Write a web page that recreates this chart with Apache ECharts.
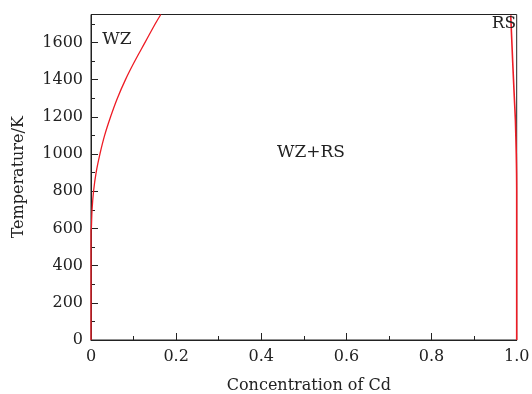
<!DOCTYPE html>
<html>
<head>
<meta charset="utf-8">
<script src="https://cdn.jsdelivr.net/npm/echarts@6/dist/echarts.min.js"></script>
<style>html,body{margin:0;padding:0;background:#fff}#c{width:532px;height:394px}</style>
</head>
<body>
<div id="c"></div>
<script>
// WZ solubility boundary (Cd fraction, temperature K)
const wzX = [0, 0, 0.0008, 0.0025, 0.006, 0.012, 0.021, 0.032, 0.046, 0.062, 0.081, 0.103, 0.127, 0.151, 0.164];
const wzT = [0, 590, 600, 700, 800, 900, 1000, 1100, 1200, 1300, 1400, 1500, 1600, 1700, 1750];
// RS solubility boundary
const rsX = [1.0, 1.0, 0.9997, 0.999, 0.997, 0.9945, 0.9905, 0.986];
const rsT = [0, 800, 900, 1000, 1180, 1300, 1500, 1745];
const xTicks = [0, 0.2, 0.4, 0.6, 0.8, 1.0];
const yTicks = [0, 200, 400, 600, 800, 1000, 1200, 1400, 1600];
const regionLabels = ['WZ', 'RS', 'WZ+RS'];

const FONT = 'DejaVu Serif';
const INK = '#222';
const RED = '#ee1c25';

const chart = echarts.init(document.getElementById('c'), null, {renderer: 'canvas'});

chart.setOption({
  animation: false,
  grid: {left: 91, right: 15.3, top: 14.5, bottom: 54, show: true, borderColor: INK, borderWidth: 1,
         containLabel: false, outerBoundsMode: 'none'},
  xAxis: [{
    type: 'value', min: 0, max: 1, interval: 0.2,
    name: 'Concentration of Cd', nameLocation: 'middle', nameGap: 38,
    nameTextStyle: {fontFamily: FONT, fontSize: 16, color: INK, padding: [0, 0, 0, 10]},
    axisLine: {show: true, lineStyle: {color: INK, width: 1}},
    axisTick: {show: true, inside: true, length: 7, lineStyle: {color: INK}},
    minorTick: {show: true, splitNumber: 2, length: 4, lineStyle: {color: INK}},
    splitLine: {show: false},
    axisLabel: {margin: 9, fontFamily: FONT, fontSize: 16, color: INK,
      formatter: v => (xTicks.some(t => Math.abs(t - v) < 1e-9) ? (v === 0 ? '0' : v.toFixed(1)) : '')}
  }],
  yAxis: [{
    type: 'value', min: 0, max: 1750, interval: 200,
    name: 'Temperature/K', nameLocation: 'middle', nameGap: 64,
    nameTextStyle: {fontFamily: FONT, fontSize: 16, color: INK},
    axisLine: {show: true, lineStyle: {color: INK, width: 1}},
    axisTick: {show: true, inside: true, length: 7, lineStyle: {color: INK}},
    splitLine: {show: false},
    axisLabel: {margin: 8, fontFamily: FONT, fontSize: 16, color: INK, showMaxLabel: false,
      formatter: v => (yTicks.indexOf(v) >= 0 ? String(v) : '')}
  }, {
    type: 'value', min: 0, max: 1750, interval: 100, position: 'left',
    axisLine: {show: false},
    axisTick: {show: true, inside: true, length: 4, lineStyle: {color: INK}},
    axisLabel: {show: false},
    splitLine: {show: false}
  }],
  series: [{
    type: 'line', showSymbol: false, smooth: 0.4, clip: true,
    data: wzX.map((x, i) => [x, wzT[i]]),
    lineStyle: {color: RED, width: 1.3}
  }, {
    type: 'line', showSymbol: false, smooth: 0.2, clip: true,
    data: rsX.map((x, i) => [x, rsT[i]]),
    lineStyle: {color: RED, width: 1.6}
  }],
  graphic: [
    {type: 'text', x: 117, y: 31, style: {text: regionLabels[0], align: 'center', fontFamily: FONT, fontSize: 17, fill: INK}, z: 10},
    {type: 'text', x: 504, y: 15, style: {text: regionLabels[1], align: 'center', fontFamily: FONT, fontSize: 17, fill: INK}, z: 10},
    {type: 'text', x: 311, y: 144, style: {text: regionLabels[2], align: 'center', fontFamily: FONT, fontSize: 17, fill: INK}, z: 10}
  ]
});
</script>
</body>
</html>
